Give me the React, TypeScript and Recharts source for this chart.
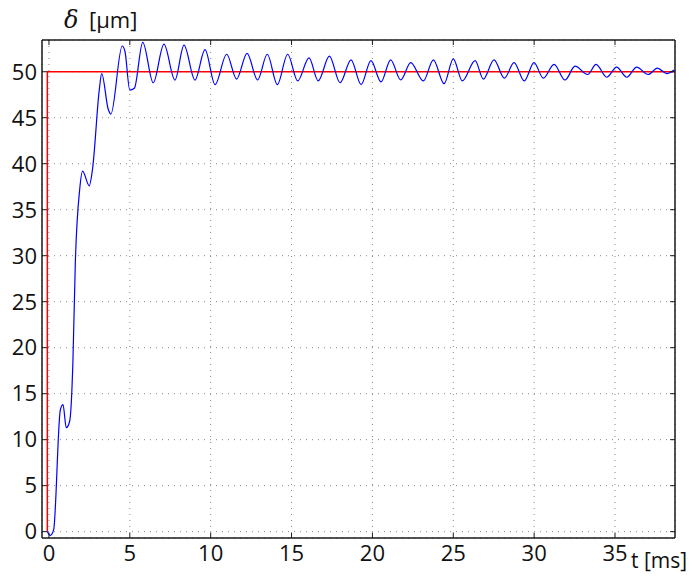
import { LineChart, Line, XAxis, YAxis, CartesianGrid } from 'recharts';

const tBlue = [
  -0.1, 0.08, 0.29, 0.7, 0.87, 1.07, 1.28, 1.48, 1.63, 1.9,
  2.08, 2.49, 2.7, 3.11, 3.26, 3.67, 3.83, 4.53, 4.7, 5.0,
  5.28, 5.8, 6.45, 7.11, 7.79, 8.35, 9.03, 9.65, 10.27, 10.99,
  11.6, 12.25, 12.9, 13.5, 14.12, 14.76, 15.38, 16.08, 16.65, 17.34,
  18.0, 18.68, 19.3, 19.91, 20.53, 21.13, 21.75, 22.37, 23.15, 23.77,
  24.43, 25.0, 25.56, 26.35, 26.86, 27.52, 28.16, 28.76, 29.39, 29.99,
  30.57, 31.23, 31.91, 32.53, 33.31, 33.83, 34.49, 35.1, 35.73, 36.34,
  37.06, 37.62, 38.2, 38.65,
];
const vBlue = [
  0, -0.4, 0.2, 13.2, 13.8, 11.3, 12.0, 18.4, 29.2, 37.2,
  39.2, 37.6, 39.5, 48.0, 49.8, 45.9, 45.4, 52.8, 52.2, 48.0,
  48.2, 53.2, 48.8, 53.0, 49.1, 52.9, 49.1, 52.4, 48.6, 51.9,
  49.2, 52.0, 49.1, 51.9, 48.6, 51.9, 49.0, 51.5, 49.0, 51.7,
  48.8, 51.3, 48.6, 51.2, 48.9, 51.3, 49.1, 51.0, 49.0, 51.3,
  48.7, 51.4, 49.0, 51.2, 49.2, 51.3, 49.3, 51.0, 49.0, 51.0,
  49.3, 50.8, 49.1, 50.6, 49.7, 50.8, 49.4, 50.5, 49.4, 50.5,
  49.7, 50.4, 49.8, 50.2,
];

// reference step
const tRed = [-0.1, -0.1, 38.71];
const vRed = [0, 50, 50];

const xTicks = [0, 5, 10, 15, 20, 25, 30, 35];
const yTicks = [0, 5, 10, 15, 20, 25, 30, 35, 40, 45, 50];

const blue = tBlue.map((t, i) => ({ t, v: vBlue[i] }));
const red = tRed.map((t, i) => ({ t, v: vRed[i] }));

const xDomain = [-0.43, 38.71];
const yDomain = [-0.69, 53.45];
const font = "'Open Sans', sans-serif";
const axisStroke = { stroke: '#1a1a1a', strokeWidth: 1.5 };
const tickStyle = { fontSize: 22, fill: '#111', fontFamily: font };
const noLabel = () => <g />;

export default function App() {
  return (
    <div style={{ position: 'absolute', left: 0, top: 0, width: 692, height: 583, background: '#fff' }}>
      <LineChart width={692} height={583} margin={{ top: 39, right: 16, bottom: 5, left: 2 }}>
        <CartesianGrid stroke="#888" strokeDasharray="1 5" />
        <XAxis
          dataKey="t"
          type="number"
          domain={xDomain}
          ticks={xTicks}
          allowDataOverflow
          height={40}
          tickSize={-5}
          tickMargin={12}
          axisLine={axisStroke}
          tickLine={{ stroke: '#1a1a1a' }}
          tick={tickStyle}
        />
        <XAxis
          xAxisId="top"
          orientation="top"
          dataKey="t"
          type="number"
          domain={xDomain}
          ticks={xTicks}
          allowDataOverflow
          height={1}
          tickSize={-5}
          axisLine={axisStroke}
          tickLine={{ stroke: '#1a1a1a' }}
          tick={noLabel}
        />
        <YAxis
          type="number"
          domain={yDomain}
          ticks={yTicks}
          allowDataOverflow
          width={40}
          tickSize={-5}
          tickMargin={10}
          axisLine={axisStroke}
          tickLine={{ stroke: '#1a1a1a' }}
          tick={tickStyle}
        />
        <YAxis
          yAxisId="right"
          orientation="right"
          type="number"
          domain={yDomain}
          ticks={yTicks}
          allowDataOverflow
          width={1}
          tickSize={-5}
          axisLine={axisStroke}
          tickLine={{ stroke: '#1a1a1a' }}
          tick={noLabel}
        />
        <Line
          xAxisId="top"
          yAxisId="right"
          data={red}
          dataKey="v"
          type="linear"
          stroke="#ff0000"
          strokeWidth={1.5}
          dot={false}
          isAnimationActive={false}
        />
        <Line
          data={blue}
          dataKey="v"
          type="monotone"
          stroke="#0000ff"
          strokeWidth={1.2}
          dot={false}
          isAnimationActive={false}
        />
      </LineChart>
      <svg width={692} height={583} style={{ position: 'absolute', left: 0, top: 0, pointerEvents: 'none' }}>
        <text x={64} y={28} fontSize={24} fontStyle="italic" fontFamily="'DejaVu Serif', serif" fill="#111">δ</text>
        <text x={89} y={28} fontSize={22} fontFamily={font} fill="#111">[μm]</text>
        <text x={631} y={568} fontSize={21} fontFamily={font} fill="#111">t [ms]</text>
      </svg>
    </div>
  );
}
